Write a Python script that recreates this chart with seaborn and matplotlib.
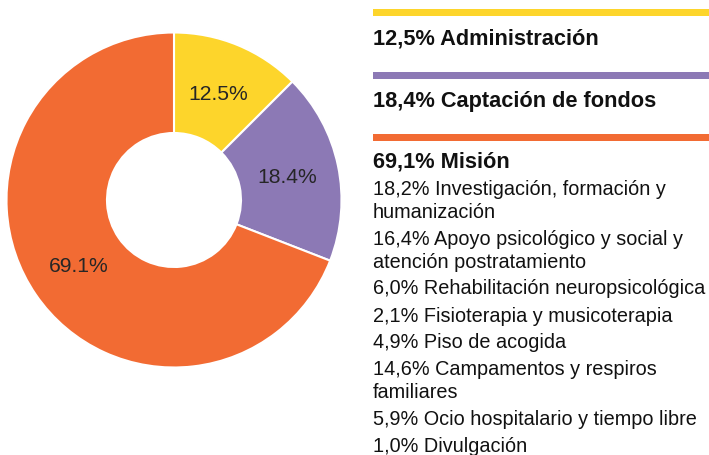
import matplotlib
matplotlib.use("Agg")
import matplotlib.pyplot as plt
import seaborn as sns
from matplotlib.patches import Rectangle

# ---- data ----
categories = ["Administración", "Captación de fondos", "Misión"]
values = [12.5, 18.4, 69.1]
heading_labels = ["12,5% Administración", "18,4% Captación de fondos", "69,1% Misión"]
mision_items = [
    ["18,2% Investigación, formación y", "humanización"],
    ["16,4% Apoyo psicológico y social y", "atención postratamiento"],
    ["6,0% Rehabilitación neuropsicológica"],
    ["2,1% Fisioterapia y musicoterapia"],
    ["4,9% Piso de acogida"],
    ["14,6% Campamentos y respiros", "familiares"],
    ["5,9% Ocio hospitalario y tiempo libre"],
    ["1,0% Divulgación"],
]
hex_colors = ["#FDD52B", "#8C79B5", "#F26B33"]

# ---- style ----
sns.set_theme(style="white")
plt.rcParams["font.family"] = ["Liberation Sans", "DejaVu Sans"]
palette = sns.color_palette(hex_colors)

W, H, DPI = 709, 456, 100
fig = plt.figure(figsize=(W / DPI, H / DPI), dpi=DPI)
fig.patch.set_facecolor("white")

def fx(px):
    return px / W

def fy(py):
    return 1 - py / H

# ---- donut ----
cx, cy, R = 174, 201, 167.5
ax = fig.add_axes([fx(cx - R), fy(cy + R), 2 * R / W, 2 * R / H])
wedges, texts, autotexts = ax.pie(
    values,
    colors=palette,
    startangle=90,
    counterclock=False,
    radius=1,
    autopct="%1.1f%%",
    pctdistance=0.69,
    wedgeprops=dict(width=0.6, edgecolor="white", linewidth=1.5),
    textprops=dict(color="#262626", fontsize=15.2),
)
ax.set_xlim(-1, 1)
ax.set_ylim(-1, 1)
ax.set_aspect("auto")
ax.axis("off")

# ---- right-side legend text ----
x0 = 373
bar_centers = [13.5, 76.5, 138.5]
head_baselines = [44.5, 107.5, 167.5]
for i in range(3):
    fig.add_artist(Rectangle((fx(x0), fy(bar_centers[i] + 3.5)), fx(W - x0), 7 / H,
                             transform=fig.transFigure, facecolor=palette[i],
                             edgecolor="none"))
    fig.text(fx(x0), fy(head_baselines[i]), heading_labels[i], fontsize=15.7,
             fontweight="bold", color="#111111", ha="left", va="baseline")

line_h = 22.5
gap = 4.5
y = 189 + 6.5
for item in mision_items:
    for line in item:
        fig.text(fx(x0), fy(y), line, fontsize=14.3, color="#111111",
                 ha="left", va="baseline")
        y += line_h
    y += gap

fig.savefig("out.png", dpi=DPI, facecolor="white")
